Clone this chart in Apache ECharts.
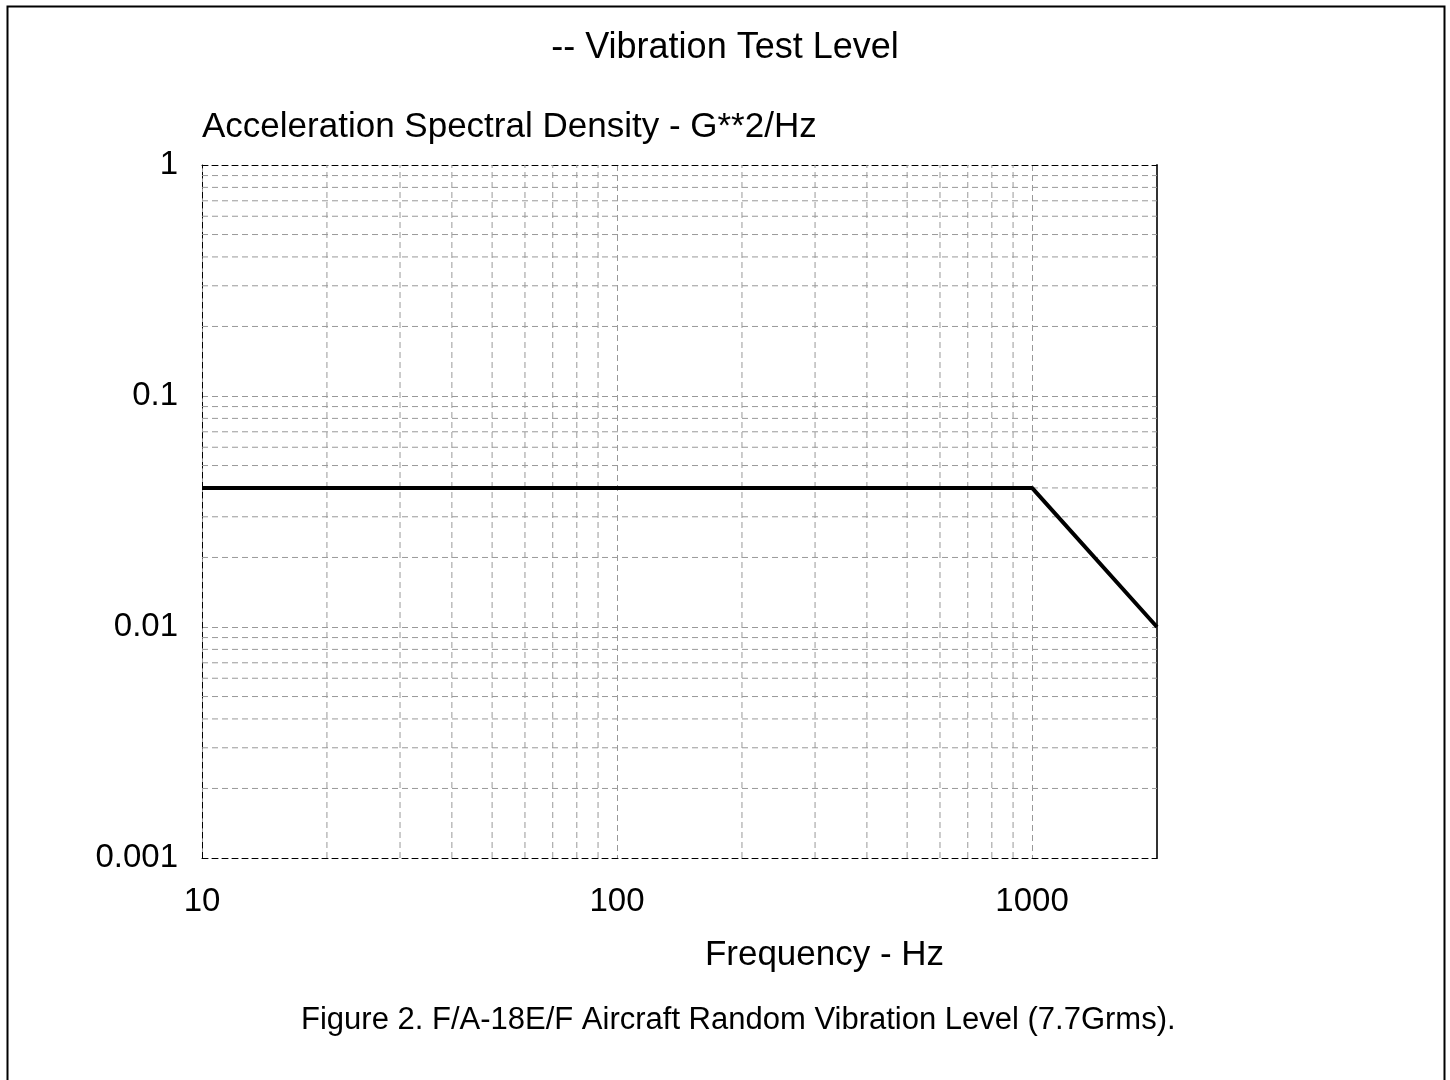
<!DOCTYPE html>
<html>
<head>
<meta charset="utf-8">
<script src="https://cdn.jsdelivr.net/npm/echarts@6/dist/echarts.min.js"></script>
<style>html,body{margin:0;padding:0;background:#fff;}#c{width:1450px;height:1080px;}</style>
</head>
<body>
<div id="c"></div>
<script>
// Data
var freqHz = [10, 1000, 2000];
var asdG2Hz = [0.04, 0.04, 0.01];
var xRange = [10, 2000];
var yRange = [0.001, 1];
var xTickLabels = ['10', '100', '1000'];
var yTickLabels = ['0.001', '0.01', '0.1', '1'];
var xMinorGrid = [20, 30, 40, 50, 60, 70, 80, 90, 200, 300, 400, 500, 600, 700, 800, 900];
var yMinorGrid = [0.002, 0.003, 0.004, 0.005, 0.006, 0.007, 0.008, 0.009,
                  0.02, 0.03, 0.04, 0.05, 0.06, 0.07, 0.08, 0.09,
                  0.2, 0.3, 0.4, 0.5, 0.6, 0.7, 0.8, 0.9];

var FONT = 'Liberation Sans, Arial, sans-serif';
var gridStyle = { color: '#999', width: 1, type: [6, 4] };

function fmt(list) {
  return function (v) {
    var s = String(+(+v).toPrecision(6));
    return list.indexOf(s) >= 0 ? s : '';
  };
}

var series = [];
xMinorGrid.forEach(function (v) {
  series.push({ type: 'line', silent: true, showSymbol: false, animation: false,
    data: [[v, yRange[0]], [v, yRange[1]]], lineStyle: gridStyle, z: 1, emphasis: { disabled: true } });
});
yMinorGrid.forEach(function (v) {
  series.push({ type: 'line', silent: true, showSymbol: false, animation: false,
    data: [[xRange[0], v], [xRange[1], v]], lineStyle: gridStyle, z: 1, emphasis: { disabled: true } });
});
series.push({
  type: 'line', xAxisIndex: 0, yAxisIndex: 0,
  data: freqHz.map(function (f, i) { return [f, asdG2Hz[i]]; }),
  showSymbol: false, lineStyle: { color: '#000', width: 4 }, z: 5
});

var chart = echarts.init(document.getElementById('c'), null, { renderer: 'canvas' });
chart.setOption({
  backgroundColor: '#fff',
  animation: false,
  tooltip: { show: false },
  title: [
    { text: '-- Vibration Test Level', left: 'center', top: 25,
      textStyle: { fontFamily: FONT, fontSize: 36, fontWeight: 'normal', color: '#000' } },
    { text: 'Figure 2. F/A-18E/F Aircraft Random Vibration Level (7.7Grms).', left: 296, top: 1000,
      textStyle: { fontFamily: FONT, fontSize: 31, fontWeight: 'normal', color: '#000' } }
  ],
  graphic: [
    { type: 'rect', shape: { x: 7.5, y: 6.5, width: 1437, height: 1090 },
      style: { fill: 'none', stroke: '#000', lineWidth: 2 }, silent: true }
  ],
  grid: { left: 202, right: 293, top: 165, bottom: 222, containLabel: false },
  xAxis: [
    {
      type: 'log', logBase: 10, min: xRange[0], max: xRange[1],
      name: 'Frequency - Hz', nameLocation: 'middle', nameGap: 80,
      nameTextStyle: { fontFamily: FONT, fontSize: 35, color: '#000', padding: [0, 0, 0, 290] },
      axisLine: { show: true, lineStyle: { color: '#000', width: 1, type: [6, 4] } },
      axisTick: { show: false },
      axisLabel: { fontFamily: FONT, fontSize: 33, color: '#000', margin: 27, formatter: fmt(xTickLabels), showMaxLabel: false },
      splitLine: { show: true, lineStyle: gridStyle }
    },
    {
      type: 'log', logBase: 10, min: xRange[0], max: xRange[1], position: 'top',
      axisLine: { show: true, lineStyle: { color: '#000', width: 1, type: [6, 4] } },
      axisTick: { show: false }, axisLabel: { show: false }, splitLine: { show: false }
    }
  ],
  yAxis: [
    {
      type: 'log', logBase: 10, min: yRange[0], max: yRange[1],
      name: 'Acceleration Spectral Density - G**2/Hz', nameLocation: 'end', nameGap: 20,
      nameTextStyle: { fontFamily: FONT, fontSize: 35, color: '#000', align: 'left', verticalAlign: 'bottom' },
      axisLine: { show: true, lineStyle: { color: '#000', width: 1, type: [6, 4] } },
      axisTick: { show: false },
      axisLabel: { fontFamily: FONT, fontSize: 33, color: '#000', margin: 24, formatter: fmt(yTickLabels) },
      splitLine: { show: true, lineStyle: gridStyle }
    },
    {
      type: 'log', logBase: 10, min: yRange[0], max: yRange[1], position: 'right',
      axisLine: { show: true, lineStyle: { color: '#333', width: 2 } },
      axisTick: { show: false }, axisLabel: { show: false }, splitLine: { show: false }
    }
  ],
  series: series
});
</script>
</body>
</html>
